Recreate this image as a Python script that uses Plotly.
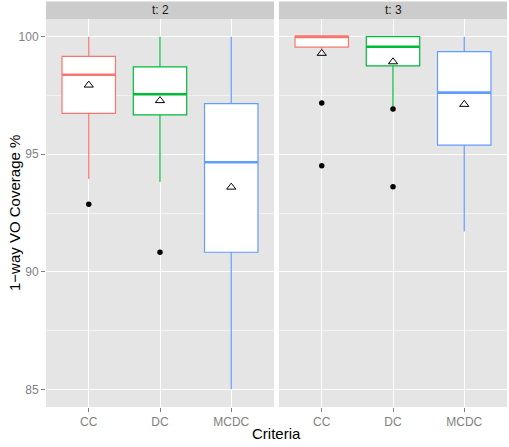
import plotly.graph_objects as go

categories = ["CC", "DC", "MCDC"]
facets = ["t: 2", "t: 3"]
colors = ["#F8766D", "#00BA38", "#619CFF"]

# t: 2
t2_lower = [93.95, 93.83, 85.0]
t2_q1 = [96.74, 96.67, 90.83]
t2_median = [98.38, 97.55, 94.66]
t2_q3 = [99.16, 98.71, 97.15]
t2_upper = [100.0, 100.0, 100.0]
t2_mean = [97.94, 97.28, 93.60]
t2_outliers = [[92.87], [90.83], []]

# t: 3
t3_lower = [99.45, 96.95, 91.71]
t3_q1 = [99.55, 98.76, 95.39]
t3_median = [100.0, 99.57, 97.62]
t3_q3 = [100.0, 100.0, 99.36]
t3_upper = [100.0, 100.0, 100.0]
t3_mean = [99.29, 98.93, 97.12]
t3_outliers = [[97.18, 94.51], [96.92, 93.62], []]

data = [
    (t2_lower, t2_q1, t2_median, t2_q3, t2_upper, t2_mean, t2_outliers),
    (t3_lower, t3_q1, t3_median, t3_q3, t3_upper, t3_mean, t3_outliers),
]

fig = go.Figure()
BW = 0.75
for f, (lo, q1, med, q3, up, mean, outs) in enumerate(data):
    xa = "x" if f == 0 else "x2"
    ya = "y" if f == 0 else "y2"
    for i, cat in enumerate(categories):
        pos = i + 1
        fig.add_trace(go.Box(
            x=[pos], q1=[q1[i]], median=[med[i]], q3=[q3[i]],
            lowerfence=[lo[i]], upperfence=[up[i]],
            width=BW, fillcolor="white", line=dict(color=colors[i], width=1.2),
            whiskerwidth=0, boxpoints=False, showlegend=False,
            xaxis=xa, yaxis=ya, hoverinfo="skip"))
        fig.add_trace(go.Scatter(
            x=[pos - BW / 2, pos + BW / 2], y=[med[i], med[i]], mode="lines",
            line=dict(color=colors[i], width=2.6), showlegend=False,
            xaxis=xa, yaxis=ya, hoverinfo="skip"))
        if outs[i]:
            fig.add_trace(go.Scatter(
                x=[pos] * len(outs[i]), y=outs[i], mode="markers",
                marker=dict(color="black", size=5.5), showlegend=False,
                xaxis=xa, yaxis=ya, hoverinfo="skip"))
        fig.add_trace(go.Scatter(
            x=[pos], y=[mean[i]], mode="markers",
            marker=dict(symbol="triangle-up-open", color="black", size=8,
                        line=dict(width=1)), showlegend=False,
            xaxis=xa, yaxis=ya, hoverinfo="skip"))

axis_font = dict(family="Liberation Sans, Arial, sans-serif", size=12, color="#7F7F7F")
xcommon = dict(range=[0.4, 3.6], tickvals=[1, 2, 3], ticktext=categories,
               showgrid=True, gridcolor="white", gridwidth=1.1, zeroline=False,
               ticks="outside", ticklen=4, tickcolor="#7F7F7F", tickwidth=1,
               tickfont=axis_font, showline=False, fixedrange=True)
ycommon = dict(range=[84.25, 100.75], tickvals=[85, 90, 95, 100],
               showgrid=True, gridcolor="white", gridwidth=1.1, zeroline=False,
               minor=dict(tickvals=[87.5, 92.5, 97.5], showgrid=True,
                          gridcolor="#F2F2F2", gridwidth=0.6),
               showline=False, fixedrange=True)

gap_l = (274 - 46) / 461
gap_r = (279 - 46) / 461
fig.update_layout(
    width=509, height=447,
    margin=dict(l=46, r=2, t=19, b=40),
    paper_bgcolor="white", plot_bgcolor="#E5E5E5",
    xaxis=dict(domain=[0, gap_l], anchor="y", **xcommon),
    xaxis2=dict(domain=[gap_r, 1], anchor="y2", **xcommon),
    yaxis=dict(domain=[0, 1], anchor="x", ticks="outside", ticklen=4,
               tickcolor="#7F7F7F", tickwidth=1, tickfont=axis_font, **ycommon),
    yaxis2=dict(domain=[0, 1], anchor="x2", showticklabels=False, ticks="",
                **ycommon),
    font=dict(family="Liberation Sans, Arial, sans-serif"),
)

strip_h = 17.5 / 388
for f, (xd, label) in enumerate(zip([(0, gap_l), (gap_r, 1)], facets)):
    fig.add_shape(type="rect", xref="paper", yref="paper",
                  x0=xd[0], x1=xd[1], y0=1, y1=1 + strip_h,
                  fillcolor="#CCCCCC", line=dict(width=0), layer="below")
    fig.add_annotation(x=(xd[0] + xd[1]) / 2, y=1 + strip_h / 2,
                       xref="paper", yref="paper", text=label, showarrow=False,
                       font=dict(size=12, color="#1A1A1A"),
                       xanchor="center", yanchor="middle")

fig.add_annotation(x=0.5, y=0, xref="paper", yref="paper", yshift=-26,
                   text="Criteria", showarrow=False,
                   font=dict(size=15, color="black"),
                   xanchor="center", yanchor="middle")
fig.add_annotation(x=0, y=0.5, xref="paper", yref="paper", xshift=-32,
                   text="1\u2212way VO Coverage %", showarrow=False, textangle=-90,
                   font=dict(size=15, color="black"),
                   xanchor="center", yanchor="middle")

fig.write_html("out.html")
